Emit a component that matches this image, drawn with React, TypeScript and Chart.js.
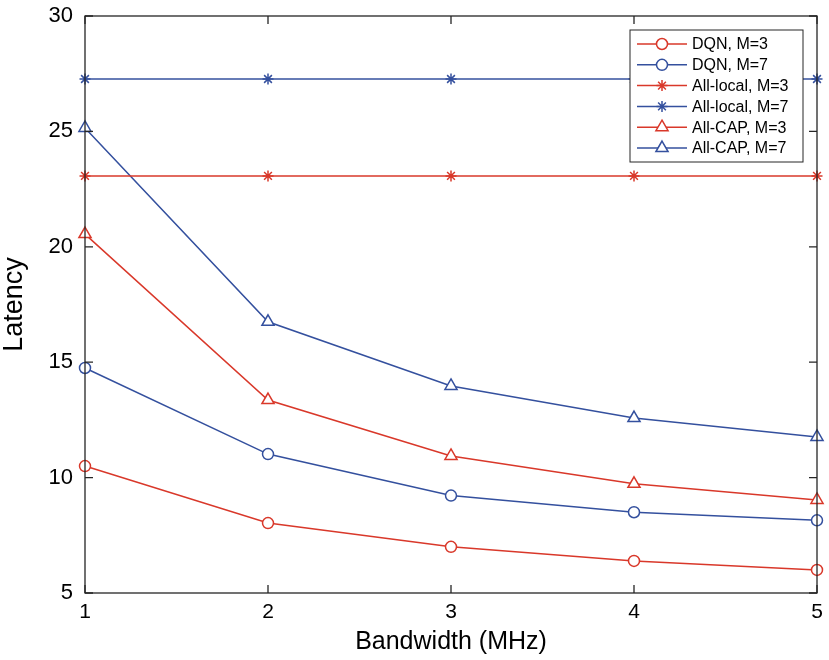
import React, { useEffect, useRef } from "react";
import { Chart, registerables } from "chart.js";
import { drawPoint } from "chart.js/helpers";

Chart.register(...registerables);

const bandwidth = [1, 2, 3, 4, 5];
const dqnM3 = [10.5, 8.03, 7.0, 6.39, 6.0];
const dqnM7 = [14.75, 11.02, 9.22, 8.5, 8.15];
const allLocalM3 = [23.07, 23.07, 23.07, 23.07, 23.07];
const allLocalM7 = [27.27, 27.27, 27.27, 27.27, 27.27];
const allCapM3 = [20.55, 13.36, 10.94, 9.73, 9.03];
const allCapM7 = [25.15, 16.75, 13.97, 12.58, 11.76];
const seriesLabels = [
  "DQN, M=3",
  "DQN, M=7",
  "All-local, M=3",
  "All-local, M=7",
  "All-CAP, M=3",
  "All-CAP, M=7",
];
const xTicks = [1, 2, 3, 4, 5];
const yTicks = [5, 10, 15, 20, 25, 30];

const RED = "#d9382a";
const BLUE = "#34509e";
const AXIS = "#262626";
const FONT = '"Liberation Sans", Arial, sans-serif';

const styleFor = (i: number) => {
  const color = i % 2 === 0 ? RED : BLUE;
  const kind = Math.floor(i / 2);
  const pointStyle = kind === 0 ? "circle" : kind === 1 ? "star" : "triangle";
  const radius = kind === 0 ? 5.5 : kind === 1 ? 5.5 : 7;
  return { color, pointStyle, radius };
};

const boxPlugin = {
  id: "matlabBox",
  afterDraw(chart: any) {
    const { ctx, chartArea, scales } = chart;
    const { left, right, top, bottom } = chartArea;
    ctx.save();
    ctx.strokeStyle = AXIS;
    ctx.lineWidth = 1.3;
    ctx.strokeRect(left, top, right - left, bottom - top);
    const tl = 8;
    ctx.beginPath();
    yTicks.forEach((v) => {
      const py = scales.y.getPixelForValue(v);
      ctx.moveTo(left, py);
      ctx.lineTo(left + tl, py);
      ctx.moveTo(right, py);
      ctx.lineTo(right - tl, py);
    });
    xTicks.forEach((v) => {
      const px = scales.x.getPixelForValue(v);
      ctx.moveTo(px, bottom);
      ctx.lineTo(px, bottom - tl);
      ctx.moveTo(px, top);
      ctx.lineTo(px, top + tl);
    });
    ctx.stroke();

    // legend
    const lx = 630, ly = 30, lw = 173, lh = 132;
    ctx.fillStyle = "#ffffff";
    ctx.fillRect(lx, ly, lw, lh);
    ctx.strokeStyle = AXIS;
    ctx.lineWidth = 1;
    ctx.strokeRect(lx, ly, lw, lh);
    ctx.font = `16px ${FONT}`;
    ctx.textBaseline = "middle";
    ctx.textAlign = "left";
    chart.data.datasets.forEach((ds: any, i: number) => {
      const s = styleFor(i);
      const cy = ly + 14 + i * 20.8;
      ctx.strokeStyle = s.color;
      ctx.lineWidth = 1.5;
      ctx.beginPath();
      ctx.moveTo(637, cy);
      ctx.lineTo(687, cy);
      ctx.stroke();
      ctx.fillStyle = "#ffffff";
      ctx.strokeStyle = s.color;
      ctx.lineWidth = 1.5;
      drawPoint(ctx, { pointStyle: s.pointStyle, radius: s.radius, rotation: 0, borderWidth: 1.5 } as any, 662, cy);
      ctx.fillStyle = "#000000";
      ctx.fillText(ds.label, 692, cy + 1);
    });
    ctx.restore();
  },
};

export default function App() {
  const ref = useRef<HTMLCanvasElement | null>(null);
  useEffect(() => {
    document.body.style.margin = "0";
    const allSeries = [dqnM3, dqnM7, allLocalM3, allLocalM7, allCapM3, allCapM7];
    const datasets = allSeries.map((vals, i) => {
      const s = styleFor(i);
      return {
        label: seriesLabels[i],
        data: vals.map((v, j) => ({ x: bandwidth[j], y: v })),
        borderColor: s.color,
        borderWidth: 1.5,
        pointStyle: s.pointStyle,
        pointRadius: s.radius,
        pointBorderWidth: 1.5,
        pointBorderColor: s.color,
        pointBackgroundColor: "#ffffff",
        fill: false,
        tension: 0,
        clip: false as any,
      };
    });
    const chart = new Chart(ref.current as HTMLCanvasElement, {
      type: "line",
      data: { datasets },
      options: {
        animation: false,
        responsive: false,
        devicePixelRatio: 1,
        layout: { padding: { left: 0, right: 12, top: 16, bottom: 0 } },
        plugins: { legend: { display: false }, tooltip: { enabled: false } },
        scales: {
          x: {
            type: "linear",
            min: 1,
            max: 5,
            afterFit: (s: any) => {
              s.height = 67;
              s.paddingLeft = 0;
              s.paddingRight = 0;
            },
            afterBuildTicks: (s: any) => {
              s.ticks = xTicks.map((v) => ({ value: v }));
            },
            grid: { display: false, drawTicks: false },
            border: { display: false },
            ticks: { font: { family: FONT, size: 21 }, color: "#000", padding: 7, maxRotation: 0 },
            title: {
              display: true,
              text: "Bandwidth (MHz)",
              font: { family: FONT, size: 25, lineHeight: 1.2 },
              color: "#000",
              padding: { top: 0, bottom: 3 },
            },
          },
          y: {
            type: "linear",
            min: 5,
            max: 30,
            afterFit: (s: any) => {
              s.width = 85;
              s.paddingTop = 0;
              s.paddingBottom = 0;
            },
            afterBuildTicks: (s: any) => {
              s.ticks = yTicks.map((v) => ({ value: v }));
            },
            grid: { display: false, drawTicks: false },
            border: { display: false },
            ticks: { font: { family: FONT, size: 22 }, color: "#000", padding: 12 },
            title: {
              display: true,
              text: "Latency",
              font: { family: FONT, size: 27, lineHeight: 1 },
              color: "#000",
              padding: { top: 1, bottom: 0 },
            },
          },
        },
      },
      plugins: [boxPlugin],
    });
    return () => chart.destroy();
  }, []);
  return <canvas ref={ref} width={829} height={660} style={{ display: "block" }} />;
}
